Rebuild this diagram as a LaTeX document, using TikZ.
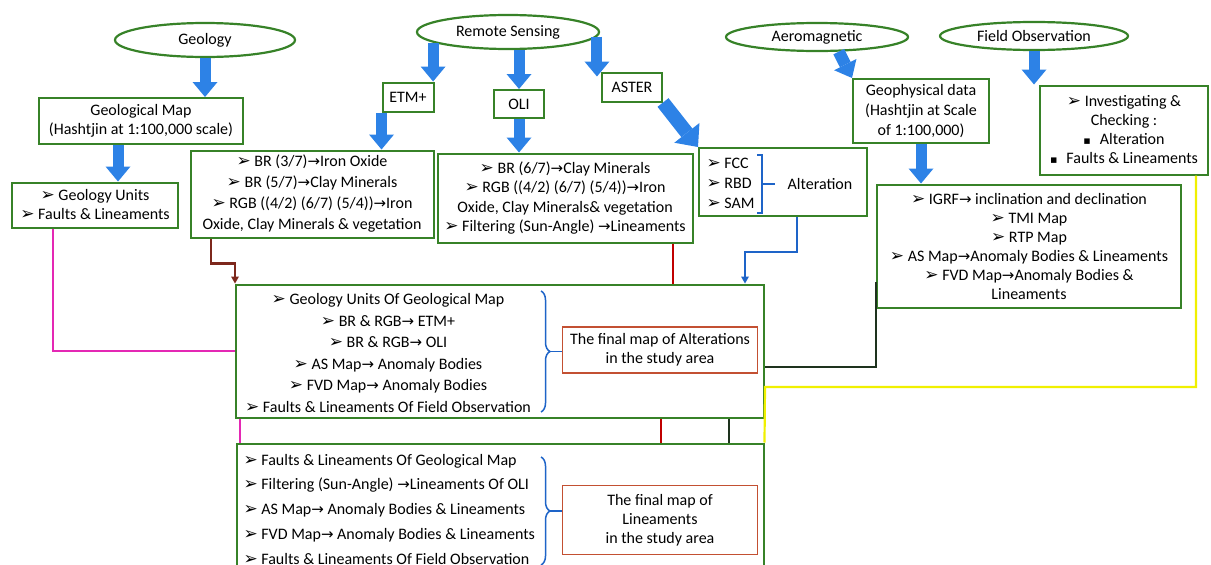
\documentclass[tikz,border=0pt]{standalone}
\usepackage{fontspec}
\setmainfont{Carlito}
\newfontfamily\symfont{DejaVu Sans}
\usetikzlibrary{positioning, arrows.meta, calc, shapes.geometric, decorations.pathreplacing}

\definecolor{boxgreen}{RGB}{55,130,40}
\definecolor{arrblue}{RGB}{45,130,230}
\definecolor{finalred}{RGB}{195,80,50}
\definecolor{pinkline}{RGB}{228,40,180}
\definecolor{brownline}{RGB}{125,40,28}
\definecolor{redline}{RGB}{192,0,0}
\definecolor{braceblue}{RGB}{30,100,200}
\definecolor{darkline}{RGB}{30,50,30}
\definecolor{yellowline}{RGB}{240,240,0}

\newcommand{\itm}{{\symfont\fontsize{17}{17}\selectfont ➢}\ }
\newcommand{\too}{{\symfont\fontsize{15}{15}\selectfont →}}
\newcommand{\sqb}{{\symfont\fontsize{11}{11}\selectfont ▪}\hspace{9pt}}

\tikzset{
	src/.style={ellipse, draw=boxgreen, line width=2.2pt, fill=white, minimum width=180pt, minimum height=34pt, inner sep=0pt},
	box/.style={rectangle, draw=boxgreen, line width=2pt, fill=white, align=center, inner sep=2pt},
	final/.style={rectangle, draw=finalred, line width=1.8pt, fill=white, align=center},
	bigarrow/.style={draw=arrblue, line width=11pt, -{Triangle[length=15pt, width=25pt, line width=0pt]}},
	link/.style={line width=2.2pt},
	tip/.style={-{Triangle[length=7pt, width=8pt, line width=0pt]}},
	curly/.style={draw=braceblue, line width=1.5pt, decorate, decoration={brace, amplitude=9pt}},
}

\begin{document}
\begin{tikzpicture}[x=1pt, y=-1pt, every node/.style={font=\fontsize{16}{19}\selectfont}]
	\useasboundingbox (0,0) rectangle (1211,565);

	\node[src] (geo) at (205,40) {Geology};
	\node[src, minimum width=182pt] (rs) at (508,32) {Remote Sensing};
	\node[src, minimum width=182pt, minimum height=28pt] (aero) at (817,37) {Aeromagnetic};
	\node[src, minimum width=188pt, minimum height=28pt] (field) at (1034,36) {Field Observation};

	\node[box, minimum width=204pt, minimum height=46pt] (gmap) at (141,121) {Geological Map\\(Hashtjin at 1:100,000 scale)};
	\node[box, minimum width=166pt, minimum height=45pt] (gunits) at (95,205) {\itm Geology Units\\\itm Faults \& Lineaments};
	\node[box, minimum width=51pt, minimum height=29pt] (etm) at (408,97) {ETM+};
	\node[box, minimum width=50pt, minimum height=28pt] (oli) at (519,104) {OLI};
	\node[box, minimum width=60pt, minimum height=29pt] (aster) at (632,87) {ASTER};
	\node[box, minimum width=243pt, minimum height=87pt, font=\fontsize{16}{21}\selectfont] (etmbox) at (312,194)
		{\itm BR (3/7)\too Iron Oxide\\\itm BR (5/7)\too Clay Minerals\\\itm RGB ((4/2) (6/7) (5/4))\too Iron\\Oxide, Clay Minerals \& vegetation};
	\node[box, minimum width=255pt, minimum height=89pt, font=\fontsize{16}{19.5}\selectfont] (olibox) at (565,198)
		{\itm BR (6/7)\too Clay Minerals\\\itm RGB ((4/2) (6/7) (5/4))\too Iron\\Oxide, Clay Minerals\& vegetation\\\itm Filtering (Sun-Angle) \too Lineaments};
	\node[box, minimum width=168pt, minimum height=68pt] (fccbox) at (783,182) {};
	\node[align=left, anchor=west, font=\fontsize{16}{20}\selectfont] (fcclist) at (703,183) {\itm FCC\\\itm RBD\\\itm SAM};
	\node (altlab) at (820,184) {Alteration};
	\node[box, minimum width=136pt, minimum height=64pt, font=\fontsize{16}{20}\selectfont] (geophys) at (921,111) {Geophysical data\\(Hashtjin at Scale\\of 1:100,000)};
	\node[box, minimum width=168pt, minimum height=89pt] (invbox) at (1124,130) {\itm Investigating \&\\Checking :\\\sqb Alteration\\\sqb Faults \& Lineaments};
	\node[box, minimum width=304pt, minimum height=123pt] (igrf) at (1029,246)
		{\itm IGRF\too{} inclination and declination\\\itm TMI Map\\\itm RTP Map\\\itm AS Map\too Anomaly Bodies \& Lineaments\\\itm FVD Map\too Anomaly Bodies \&\\Lineaments};

	\node[box, minimum width=528pt, minimum height=133pt] (altbox) at (500,351) {};
	\node[align=center, font=\fontsize{16}{21.6}\selectfont] (altlist) at (388,353)
		{\itm Geology Units Of Geological Map\\\itm BR \& RGB\too{} ETM+\\\itm BR \& RGB\too{} OLI\\\itm AS Map\too{} Anomaly Bodies\\\itm FVD Map\too{} Anomaly Bodies\\\itm Faults \& Lineaments Of Field Observation};
	\node[final, minimum width=195pt, minimum height=46pt] (altfinal) at (660,350) {The final map of Alterations\\in the study area};

	\node[box, minimum width=527pt, minimum height=131pt] (linbox) at (500,509) {};
	\node[align=left, anchor=west, font=\fontsize{16}{24.75}\selectfont] (linlist) at (240,509)
		{\itm Faults \& Lineaments Of Geological Map\\\itm Filtering (Sun-Angle) \too Lineaments Of OLI\\\itm AS Map\too{} Anomaly Bodies \& Lineaments\\\itm FVD Map\too{} Anomaly Bodies \& Lineaments\\\itm Faults \& Lineaments Of Field Observation};
	\node[final, minimum width=195pt, minimum height=69pt] (linfinal) at (660,520) {The final map of\\Lineaments\\in the study area};

	\draw[braceblue, line width=1.5pt] (757,155) -- (762,155) -- (762,213) -- (757,213);
	\coordinate (fccbr) at (762,184);
	\draw[braceblue, line width=1.5pt] (fccbr) -- ++(13,0);
	\draw[curly] (541,291) -- (541,412);
	\coordinate (altbr) at (550,351.5);
	\draw[braceblue, line width=1.5pt] (altbr) -- (altfinal.west |- altbr);
	\draw[curly] (541,457) -- (541,565);
	\coordinate (linbr) at (550,511);
	\draw[braceblue, line width=1.5pt] (linbr) -- (linfinal.west |- linbr);

	\draw[link, pinkline] (gunits.south -| 53,0) |- (altbox.west);
	\draw[link, pinkline] (altbox.south -| 240,0) -- (linbox.north -| 240,0);
	\draw[link, brownline, tip] (etmbox.south -| 211,0) -- ++(0,25) -| (altbox.north west);
	\draw[link, redline] (olibox.south -| 673,0) -- (altbox.north -| 673,0);
	\draw[link, redline] (altbox.south -| 661,0) -- (linbox.north -| 661,0);
	\draw[link, braceblue, tip] (fccbox.south -| 797,0) -- ++(0,35) -| (altbox.north -| 745,0);
	\draw[link, darkline] (igrf.west |- 0,282) |- (altbox.east |- 0,367);
	\draw[link, darkline] (altbox.south -| 729,0) -- (linbox.north -| 729,0);
	\draw[link, yellowline] (invbox.south -| 1196,0) |- (altbox.east |- 0,387) -- (linbox.north east);

	\draw[bigarrow] (geo.south) -- (geo.south |- gmap.north);
	\draw[bigarrow] (gmap.south -| 118,0) -- (gunits.north -| 118,0);
	\draw[bigarrow] (rs.188) -- (rs.188 |- etm.north);
	\draw[bigarrow] (oli.north |- rs.south) -- (oli.north);
	\draw[bigarrow] (rs.-3) -- ($(rs.-3 |- aster.north)+(0,5)$);
	\draw[bigarrow] (etm.south west) -- (etm.south west |- etmbox.north);
	\draw[bigarrow] (oli.south) -- (oli.south |- olibox.north);
	\draw[bigarrow, line width=14pt, -{Triangle[length=18pt, width=32pt, line width=0pt]}] (aster.south east) -- (fccbox.north west);
	\draw[bigarrow, line width=12pt] (aero.-34) -- (geophys.north west);
	\draw[bigarrow] (field.south) -- (field.south |- invbox.north);
	\draw[bigarrow] (geophys.south) -- (geophys.south |- igrf.north);
\end{tikzpicture}
\end{document}
